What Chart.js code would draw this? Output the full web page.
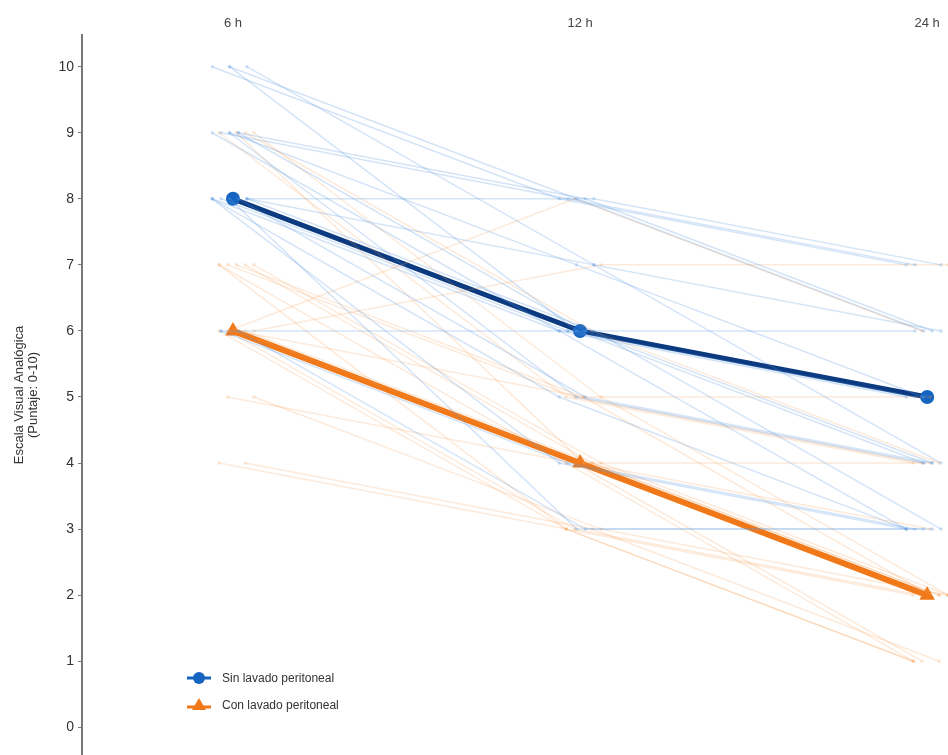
<!DOCTYPE html>
<html>
<head>
<meta charset="utf-8">
<script src="https://cdn.jsdelivr.net/npm/chart.js@4.4.0/dist/chart.umd.min.js"></script>
<style>
  body { margin: 0; background: #fff; font-family: 'Liberation Sans', Arial, sans-serif; overflow: hidden; }
  #wrap { position: relative; width: 948px; height: 755px; }
  #chart { display: block; }
  #legend { position: absolute; left: 186px; top: 664px; font-size: 12px; color: #333; }
  #legend div { display: flex; align-items: center; height: 27px; }
  #legend svg { margin-right: 10px; }
</style>
</head>
<body>
<div id="wrap">
  <canvas id="chart" width="948" height="755"></canvas>
  <div id="legend">
    <div><svg width="26" height="16"><line x1="1" y1="8" x2="25" y2="8" stroke="#1565c0" stroke-width="3"/><circle cx="13" cy="8" r="6" fill="#1565c0"/></svg>Sin lavado peritoneal</div>
    <div><svg width="26" height="16"><line x1="1" y1="10" x2="25" y2="10" stroke="#f07818" stroke-width="3"/><polygon points="13,1 20,13 6,13" fill="#f07818"/></svg>Con lavado peritoneal</div>
  </div>
</div>
<script>
// momentos de medición
const timeLabels = ['6 h', '12 h', '24 h'];
const timeX = [1, 2, 3];
const yTicks = [0, 1, 2, 3, 4, 5, 6, 7, 8, 9, 10];

// promedios por grupo
const meanSin = [8, 6, 5];
const meanCon = [6, 4, 2];

// trayectorias individuales (6 h, 12 h, 24 h)
const pacientesSin = [
  [10, 8, 7], [10, 8, 6], [10, 7, 6], [9, 8, 7], [9, 8, 6], [9, 6, 5],
  [9, 7, 5], [8, 8, 7], [8, 6, 5], [8, 5, 4], [8, 4, 3], [8, 3, 3],
  [8, 6, 3], [6, 6, 6], [6, 3, 3], [8, 5, 3], [9, 5, 4], [8, 7, 4],
  [6, 4, 3], [9, 6, 4], [8, 6, 3], [10, 6, 4]
];
const pacientesCon = [
  [9, 5, 4], [9, 4, 3], [9, 5, 2], [7, 5, 4], [7, 4, 2], [7, 3, 1],
  [7, 5, 2], [6, 7, 7], [6, 8, 6], [6, 4, 2], [6, 3, 1], [6, 4, 4],
  [5, 3, 2], [5, 4, 1], [4, 3, 1], [4, 3, 2], [6, 5, 5], [7, 4, 2],
  [6, 3, 2], [9, 6, 4], [7, 4, 1]
];

const datasets = [];

function addIndividuals(list, color, side) {
  list.forEach((vals, i) => {
    const off = ((i * 7) % 5 - 2) * 0.025 + side;
    datasets.push({
      data: vals.map((v, k) => ({ x: timeX[k] + off, y: v })),
      borderColor: color,
      backgroundColor: color,
      borderWidth: 1.5,
      pointRadius: 1.8,
      pointBorderWidth: 0,
      tension: 0
    });
  });
}
addIndividuals(pacientesSin, 'rgba(90,150,225,0.26)', -0.01);
addIndividuals(pacientesCon, 'rgba(245,150,70,0.2)', 0.01);

datasets.push({
  label: 'Con lavado peritoneal',
  data: meanCon.map((v, k) => ({ x: timeX[k], y: v })),
  borderColor: '#f07818',
  backgroundColor: '#f07818',
  borderWidth: 6,
  pointStyle: 'triangle',
  pointRadius: 9,
  pointBorderWidth: 0
});
datasets.push({
  label: 'Sin lavado peritoneal',
  data: meanSin.map((v, k) => ({ x: timeX[k], y: v })),
  borderColor: '#0b3a80',
  backgroundColor: '#1565c0',
  borderWidth: 5,
  pointStyle: 'circle',
  pointRadius: 7,
  pointBorderWidth: 0
});

new Chart(document.getElementById('chart'), {
  type: 'line',
  data: { datasets: datasets },
  options: {
    responsive: false,
    animation: false,
    layout: { autoPadding: false, padding: { left: 12, right: 0, top: 0, bottom: 0 } },
    plugins: { legend: { display: false }, tooltip: { enabled: false } },
    scales: {
      x: {
        type: 'linear',
        position: 'top',
        min: 0.565,
        max: 3.06,
        afterBuildTicks: s => { s.ticks = timeX.map(v => ({ value: v })); },
        afterFit: s => { s.height = 35; s.paddingLeft = 0; s.paddingRight = 0; },
        grid: { display: false, drawTicks: false },
        border: { display: false },
        ticks: {
          color: '#444',
          font: { size: 13 },
          padding: 4,
          callback: (v) => timeLabels[timeX.indexOf(v)]
        }
      },
      y: {
        min: -0.42,
        max: 10.48,
        afterBuildTicks: s => { s.ticks = yTicks.map(v => ({ value: v })); },
        afterFit: s => { s.width = 70; s.paddingTop = 0; s.paddingBottom = 0; },
        grid: { drawOnChartArea: false, drawTicks: true, tickLength: 4, color: '#777' },
        border: { display: true, color: '#777', width: 2 },
        ticks: { color: '#333', font: { size: 14 }, padding: 4 },
        title: {
          display: true,
          text: ['Escala Visual Analógica', '(Puntaje: 0-10)'],
          color: '#333',
          font: { size: 13, lineHeight: 1.1 },
          padding: { top: 0, bottom: 4 }
        }
      }
    }
  }
});
</script>
</body>
</html>
